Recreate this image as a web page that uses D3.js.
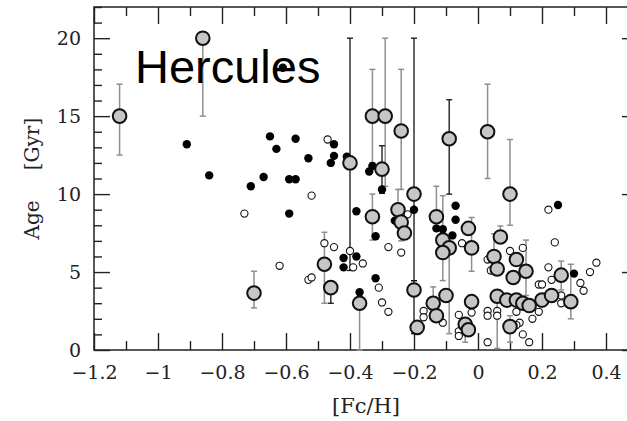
<!DOCTYPE html>
<html>
<head>
<meta charset="utf-8">
<script src="https://cdn.jsdelivr.net/npm/d3@7"></script>
<style>
  body { margin: 0; background: #fff; }
  text { font-family: "DejaVu Serif", serif; fill: #222; }
</style>
</head>
<body>
<div id="container"></div>
<script>
let w = 627;
let h = 421;

// ---- data ----
// small stars: filled = black dots, open = white dots   [Fe/H, age]
let filledStars = [
  [-0.91, 13.2], [-0.65, 13.7], [-0.63, 12.9], [-0.57, 13.55], [-0.53, 12.3],
  [-0.45, 13.2], [-0.45, 12.45], [-0.46, 12.0], [-0.41, 12.4], [-0.84, 11.2],
  [-0.71, 10.5], [-0.67, 11.1], [-0.59, 10.95], [-0.57, 10.95], [-0.59, 8.75],
  [-0.61, 18.1], [-0.34, 11.45], [-0.33, 11.8], [-0.30, 10.3], [-0.38, 8.9],
  [-0.20, 9.0], [-0.07, 9.25], [-0.07, 8.35], [-0.32, 7.3], [-0.26, 8.3],
  [-0.13, 7.8], [-0.11, 7.75], [-0.08, 7.35], [-0.42, 5.9], [-0.38, 6.0],
  [-0.42, 5.3], [-0.37, 3.7], [-0.32, 4.6], [0.25, 9.3], [0.30, 4.9]
];
let openStars = [
  [-0.47, 13.5], [-0.73, 8.75], [-0.52, 9.9], [-0.62, 5.4], [-0.53, 4.5],
  [-0.52, 4.65], [-0.48, 6.85], [-0.45, 6.6], [-0.40, 6.35], [-0.39, 5.3],
  [-0.36, 5.55], [-0.31, 4.0], [-0.30, 3.05], [-0.28, 2.45], [-0.28, 6.6],
  [-0.22, 8.7], [-0.24, 6.25], [-0.05, 6.85], [-0.17, 2.5], [-0.17, 2.1],
  [-0.11, 1.75], [-0.06, 2.25], [-0.06, 1.2], [-0.06, 0.9], [-0.02, 2.4],
  [0.03, 2.5], [0.03, 2.2], [0.06, 2.5], [0.06, 2.2], [0.03, 0.5],
  [0.03, 5.8], [0.04, 5.1], [0.10, 6.35], [0.14, 6.55], [0.12, 2.45],
  [0.13, 1.75], [0.12, 1.6], [0.14, 1.0], [0.16, 0.5], [0.17, 2.0],
  [0.19, 2.45], [0.19, 4.2], [0.20, 4.2], [0.22, 9.0], [0.24, 6.9],
  [0.22, 5.3], [0.23, 4.5], [0.26, 3.5], [0.26, 3.0], [0.32, 4.3],
  [0.33, 3.8], [0.35, 5.0], [0.37, 5.6]
];
// large grey stars with error bars   [Fe/H, age, age low, age high]
let bigGreyBar = [
  [-1.12, 15.0, 12.5, 17.05], [-0.86, 20.0, 15.0, 20.0], [-0.33, 15.0, 12.0, 18.0],
  [-0.29, 15.0, 10.5, 20.0], [-0.24, 14.05, 10.3, 18.0], [0.03, 14.0, 11.0, 17.05],
  [0.10, 10.0, 8.0, 13.5], [-0.25, 9.0, 9.0, 10.3], [-0.33, 8.55, 7.05, 10.0],
  [-0.24, 8.2, 7.0, 8.2], [-0.13, 8.55, 8.55, 10.5], [-0.11, 7.05, 4.45, 9.9],
  [-0.09, 6.55, 1.05, 6.55], [-0.02, 6.55, 5.05, 8.5], [-0.70, 3.65, 2.7, 5.05],
  [-0.48, 5.5, 3.0, 7.55], [-0.37, 3.0, 0.0, 3.0], [-0.14, 3.0, 3.0, 4.05],
  [-0.04, 1.65, 0.5, 1.65], [0.05, 6.0, 6.0, 7.45], [0.07, 7.25, 7.25, 7.95],
  [0.06, 3.45, 0.1, 3.45], [0.15, 5.05, 3.5, 7.05], [0.10, 1.5, 0.5, 2.2],
  [0.26, 4.8, 3.85, 5.7], [0.29, 3.1, 2.0, 5.5]
];
let bigBlackBar = [
  [-0.40, 12.0, 5.1, 20.0], [-0.30, 11.6, 10.05, 13.1], [-0.20, 10.0, 4.45, 20.0],
  [-0.20, 3.85, 1.05, 4.45], [-0.09, 13.55, 10.0, 16.05], [-0.46, 4.0, 3.0, 4.0],
  [-0.19, 1.45, 1.0, 1.45]
];
let bigNoBar = [
  [-0.23, 7.5], [-0.11, 6.25], [-0.13, 2.2], [-0.10, 3.5], [-0.02, 3.1],
  [-0.03, 1.3], [0.06, 5.2], [0.09, 3.2], [0.12, 3.2], [0.14, 3.0],
  [0.16, 2.85], [0.11, 4.65], [0.12, 5.8], [0.20, 3.2], [0.23, 3.5],
  [-0.03, 7.8]
];

let xMajor = [-1.2, -1, -0.8, -0.6, -0.4, -0.2, 0, 0.2, 0.4];
let yMajor = [0, 5, 10, 15, 20];

// ---- svg ----
let viz = d3.select("#container")
  .append("svg")
    .attr("width", w)
    .attr("height", h)
    .style("background-color", "white");

let xScale = d3.scaleLinear().domain([-1.2, 0.5]).range([94, 638]);
let yScale = d3.scaleLinear().domain([0, 22]).range([350, 7]);

let xMinor = d3.range(-1.2, 0.51, 0.1).map(v => +v.toFixed(2)).filter(v => xMajor.indexOf(v) < 0);
let yMinor = d3.range(0, 23, 1).filter(v => yMajor.indexOf(v) < 0);

function styleAxis(g){
  g.select(".domain").remove();
  g.selectAll("line").attr("stroke", "#222").attr("stroke-width", 1.4);
  g.selectAll("text").attr("font-family", "DejaVu Serif").attr("font-size", 19).attr("fill", "#222");
}

let fmt = d3.format("~g");

// bottom
viz.append("g").attr("transform", "translate(0,350)")
  .call(d3.axisBottom(xScale).tickValues(xMajor).tickFormat(fmt).tickSize(-17).tickPadding(16))
  .call(styleAxis);
viz.append("g").attr("transform", "translate(0,350)")
  .call(d3.axisBottom(xScale).tickValues(xMinor).tickFormat("").tickSize(-9))
  .call(styleAxis);
// top
viz.append("g").attr("transform", "translate(0,7)")
  .call(d3.axisTop(xScale).tickValues(xMajor).tickFormat("").tickSize(-17))
  .call(styleAxis);
viz.append("g").attr("transform", "translate(0,7)")
  .call(d3.axisTop(xScale).tickValues(xMinor).tickFormat("").tickSize(-9))
  .call(styleAxis);
// left
viz.append("g").attr("transform", "translate(94,0)")
  .call(d3.axisLeft(yScale).tickValues(yMajor).tickFormat(fmt).tickSize(-16).tickPadding(13))
  .call(styleAxis);
viz.append("g").attr("transform", "translate(94,0)")
  .call(d3.axisLeft(yScale).tickValues(yMinor).tickFormat("").tickSize(-8))
  .call(styleAxis);
// right
viz.append("g").attr("transform", "translate(638,0)")
  .call(d3.axisRight(yScale).tickValues(yMajor).tickFormat("").tickSize(-16))
  .call(styleAxis);
viz.append("g").attr("transform", "translate(638,0)")
  .call(d3.axisRight(yScale).tickValues(yMinor).tickFormat("").tickSize(-8))
  .call(styleAxis);

// frame
viz.append("rect")
  .attr("x", 94).attr("y", 7)
  .attr("width", 638 - 94).attr("height", 350 - 7)
  .attr("fill", "none").attr("stroke", "#222").attr("stroke-width", 1.5);

// axis titles
viz.append("text")
  .attr("x", 366).attr("y", 413)
  .attr("text-anchor", "middle")
  .attr("font-size", 21)
  .text("[Fc/H]");
viz.append("text")
  .attr("transform", "translate(39,220) rotate(-90)")
  .attr("text-anchor", "middle")
  .attr("font-size", 20)
  .text("Age");
viz.append("text")
  .attr("transform", "translate(39,144) rotate(-90)")
  .attr("text-anchor", "middle")
  .attr("font-size", 20)
  .text("[Gyr]");

// ---- error bars ----
function drawBars(data, colour, width){
  let g = viz.append("g").attr("stroke", colour).attr("stroke-width", width).attr("fill", "none");
  data.forEach(function(d){
    let cx = xScale(d[0]);
    g.append("line").attr("x1", cx).attr("x2", cx).attr("y1", yScale(d[2])).attr("y2", yScale(d[3]));
    if (d[2] < d[1]) {
      g.append("line").attr("x1", cx - 3).attr("x2", cx + 3).attr("y1", yScale(d[2])).attr("y2", yScale(d[2]));
    }
    if (d[3] > d[1]) {
      g.append("line").attr("x1", cx - 3).attr("x2", cx + 3).attr("y1", yScale(d[3])).attr("y2", yScale(d[3]));
    }
  });
}
drawBars(bigGreyBar, "#8f8f8f", 1.5);
drawBars(bigBlackBar, "#111", 1.3);

// ---- small stars ----
viz.append("g").selectAll("circle").data(openStars).enter()
  .append("circle")
    .attr("cx", d => xScale(d[0]))
    .attr("cy", d => yScale(d[1]))
    .attr("r", 3.6)
    .attr("fill", "white")
    .attr("stroke", "#111")
    .attr("stroke-width", 1.1);

viz.append("g").selectAll("circle").data(filledStars).enter()
  .append("circle")
    .attr("cx", d => xScale(d[0]))
    .attr("cy", d => yScale(d[1]))
    .attr("r", 4.2)
    .attr("fill", "black");

// ---- large grey stars ----
let bigAll = bigGreyBar.concat(bigBlackBar).concat(bigNoBar);
viz.append("g").selectAll("circle").data(bigAll).enter()
  .append("circle")
    .attr("cx", d => xScale(d[0]))
    .attr("cy", d => yScale(d[1]))
    .attr("r", 6.8)
    .attr("fill", "#c6c6c6")
    .attr("stroke", "#111")
    .attr("stroke-width", 2);

// label
viz.append("text")
  .attr("x", 135).attr("y", 83)
  .attr("font-family", "Liberation Sans, Arial, sans-serif")
  .attr("font-size", 47)
  .style("font-family", "'Liberation Sans', Arial, sans-serif")
  .style("fill", "#000")
  .text("Hercules");
</script>
</body>
</html>
